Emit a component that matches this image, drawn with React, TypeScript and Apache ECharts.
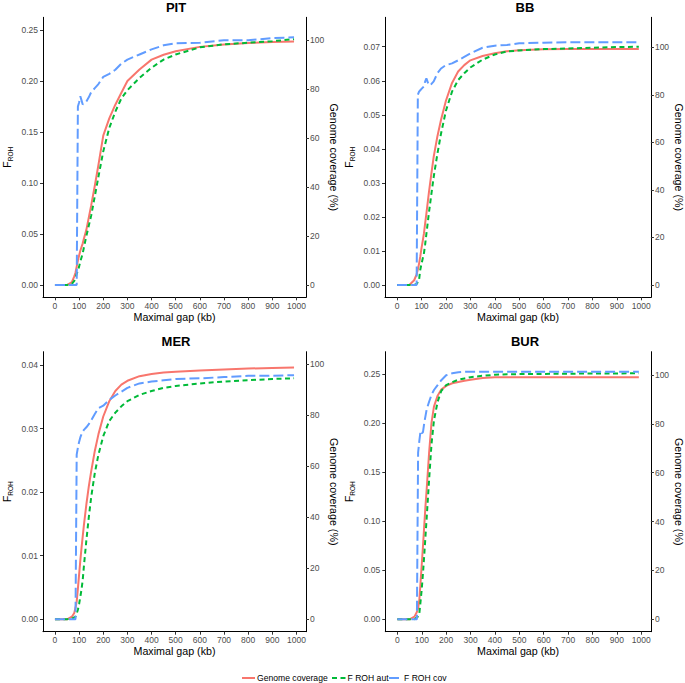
import React, { useEffect, useRef } from "react";
import * as echarts from "echarts";

// Maximal gap (kb)
const GAP = [0, 50, 70, 80, 85, 90, 95, 100, 105, 110, 115, 120, 130, 140, 150, 165, 180, 200, 225, 250, 275, 300, 350, 400, 450, 500, 600, 700, 800, 900, 990];

// PIT
const PIT_GENOME_COVERAGE = [0, 0, 1.2, 3.5, 5, 7.5, 10, 12, 14, 15.5, 17, 19, 22.5, 27.5, 32.5, 40.5, 49, 61, 68, 73.6, 78.5, 83.3, 88, 92, 94, 95.4, 97.2, 98.2, 98.8, 99.2, 99.4];
const PIT_FROH_AUT = [0, 0, 0.001, 0.004, 0.007, 0.011, 0.014, 0.018, 0.023, 0.027, 0.031, 0.037, 0.048, 0.058, 0.068, 0.087, 0.106, 0.131, 0.154, 0.17, 0.183, 0.191, 0.203, 0.213, 0.221, 0.226, 0.233, 0.236, 0.2375, 0.239, 0.241];
const PIT_FROH_COV = [0, 0, 0, 0, 0, 0, 0.175, 0.179, 0.185, 0.181, 0.177, 0.178, 0.18, 0.184, 0.189, 0.193, 0.197, 0.204, 0.207, 0.211, 0.217, 0.221, 0.226, 0.231, 0.235, 0.237, 0.2375, 0.24, 0.24, 0.242, 0.2428];

// BB
const BB_GENOME_COVERAGE = [0, 0, 2, 4.5, 6.5, 9, 12, 15.5, 18.5, 21.7, 26, 30, 38.6, 46.5, 54, 62.5, 69.5, 77.5, 85, 89.8, 92.5, 94.5, 96.3, 97.5, 98.3, 98.7, 99.2, 99.3, 99.3, 99.3, 99.3];
const BB_FROH_AUT = [0, 0, 0, 0.0003, 0.0008, 0.0015, 0.0045, 0.0062, 0.0078, 0.0093, 0.012, 0.015, 0.021, 0.0265, 0.0318, 0.0385, 0.0445, 0.0512, 0.0568, 0.0602, 0.0622, 0.0639, 0.0662, 0.0677, 0.0686, 0.0689, 0.0693, 0.0695, 0.0697, 0.0699, 0.07];
const BB_FROH_COV = [0, 0, 0, 0, 0.0559, 0.0568, 0.0572, 0.0576, 0.058, 0.0583, 0.0598, 0.0607, 0.0587, 0.059, 0.0598, 0.0622, 0.0636, 0.0646, 0.0651, 0.066, 0.067, 0.068, 0.0697, 0.0703, 0.0705, 0.071, 0.0712, 0.0713, 0.0713, 0.0713, 0.0713];

// MER
const MER_GENOME_COVERAGE = [0, 0, 1, 2.5, 4.5, 7, 12, 17.5, 23, 28, 32.5, 37, 45, 52, 58, 66, 72.5, 79.5, 85.5, 89.5, 92, 93.5, 95.3, 96.2, 96.7, 97, 97.5, 97.9, 98.3, 98.5, 98.7];
const MER_FROH_AUT = [0, 0, 0.0001, 0.0003, 0.0004, 0.0009, 0.0015, 0.0024, 0.0035, 0.0047, 0.0062, 0.0084, 0.0124, 0.016, 0.0192, 0.023, 0.0259, 0.0288, 0.0312, 0.0325, 0.0335, 0.0343, 0.0353, 0.0359, 0.0364, 0.0367, 0.0371, 0.0374, 0.0376, 0.0378, 0.0379];
const MER_FROH_COV = [0, 0, 0, 0, 0, 0.0259, 0.027, 0.0279, 0.0286, 0.0291, 0.0295, 0.0298, 0.0302, 0.0307, 0.0313, 0.0323, 0.0332, 0.0336, 0.0345, 0.0352, 0.0358, 0.0364, 0.0371, 0.0374, 0.0376, 0.0378, 0.0379, 0.0381, 0.0383, 0.0383, 0.0384];

// BUR
const BUR_GENOME_COVERAGE = [0, 0, 1.1, 3, 4.5, 7.9, 15, 22.5, 30, 38, 46, 53, 68, 80.5, 87, 91.5, 94, 95.5, 96.6, 97.1, 97.6, 98, 98.7, 99, 99, 99, 99, 99, 99, 99, 99];
const BUR_FROH_AUT = [0, 0, 0, 0.002, 0.003, 0.006, 0.018, 0.031, 0.047, 0.065, 0.084, 0.103, 0.142, 0.179, 0.203, 0.222, 0.233, 0.239, 0.242, 0.2445, 0.2458, 0.247, 0.2485, 0.2495, 0.25, 0.2502, 0.2504, 0.2506, 0.2508, 0.2509, 0.251];
const BUR_FROH_COV = [0, 0, 0, 0, 0.17, 0.182, 0.192, 0.19, 0.191, 0.2, 0.207, 0.214, 0.222, 0.229, 0.234, 0.239, 0.244, 0.249, 0.251, 0.252, 0.2525, 0.2527, 0.2527, 0.2527, 0.2527, 0.2527, 0.2527, 0.2527, 0.2527, 0.2527, 0.2527];

// Tick labels
const X_TICKS = [0, 100, 200, 300, 400, 500, 600, 700, 800, 900, 1000];
const RIGHT_TICKS = [0, 20, 40, 60, 80, 100];
const PIT_TICKS = [0, 0.05, 0.1, 0.15, 0.2, 0.25];
const BB_TICKS = [0, 0.01, 0.02, 0.03, 0.04, 0.05, 0.06, 0.07];
const MER_TICKS = [0, 0.01, 0.02, 0.03, 0.04];
const BUR_TICKS = [0, 0.05, 0.1, 0.15, 0.2, 0.25];

const SERIES_NAMES = ["Genome coverage", "F ROH aut", "F ROH cov"];
const COLORS = ["#F8766D", "#00BA38", "#619CFF"];
const DASHES: any[] = ["solid", [5, 3.5], [10, 4]];
const FONT = "Liberation Sans, Arial, Helvetica, sans-serif";

const PANELS = [
  { title: "PIT", cov: PIT_GENOME_COVERAGE, aut: PIT_FROH_AUT, froh: PIT_FROH_COV, ticks: PIT_TICKS,
    left: 37, top: 17.3, width: 269, height: 280, lMin: -0.01206, lMax: 0.26245, rMin: -5.02, rMax: 109.27, tx: 171, ty: -4 },
  { title: "BB", cov: BB_GENOME_COVERAGE, aut: BB_FROH_AUT, froh: BB_FROH_COV, ticks: BB_TICKS,
    left: 385, top: 17.3, width: 270, height: 280, lMin: -0.00361, lMax: 0.07864, rMin: -5.17, rMax: 112.6, tx: 520, ty: -4 },
  { title: "MER", cov: MER_GENOME_COVERAGE, aut: MER_FROH_AUT, froh: MER_FROH_COV, ticks: MER_TICKS,
    left: 36.7, top: 351.7, width: 269.3, height: 280, lMin: -0.00195, lMax: 0.04209, rMin: -4.86, rMax: 104.9, tx: 171, ty: 329.5 },
  { title: "BUR", cov: BUR_GENOME_COVERAGE, aut: BUR_FROH_AUT, froh: BUR_FROH_COV, ticks: BUR_TICKS,
    left: 385.3, top: 351.7, width: 269.7, height: 280, lMin: -0.01265, lMax: 0.27306, rMin: -5.08, rMax: 109.5, tx: 520, ty: 329.5 },
];

// legend layout (keys and labels)
const LEGEND_Y = 678;
const LEGEND_ITEMS = [
  { x1: 242, x2: 255, tx: 257 },
  { x1: 332, x2: 346, tx: 347.5 },
  { x1: 389, x2: 401, tx: 404 },
];

function buildOption() {
  const grid: any[] = [];
  const xAxis: any[] = [];
  const yAxis: any[] = [];
  const series: any[] = [];
  const title: any[] = [];

  const axisLine = { show: true, onZero: false, lineStyle: { color: "#000", width: 1 } };

  PANELS.forEach((p, i) => {
    grid.push({ left: p.left, top: p.top, width: p.width, height: p.height, containLabel: false });
    title.push({
      text: p.title, left: p.tx, top: p.ty, textAlign: "center",
      textStyle: { fontFamily: FONT, fontSize: 13, fontWeight: "bold", color: "#000" },
    });
    xAxis.push({
      type: "value", gridIndex: i, min: -49.5, max: 1039.5,
      axisLine,
      axisTick: { show: true, length: 3, customValues: X_TICKS, lineStyle: { color: "#333" } },
      axisLabel: { customValues: X_TICKS, color: "#4D4D4D", fontSize: 8.5, fontFamily: FONT, margin: 4,
        formatter: (v: number) => String(v) },
      splitLine: { show: false },
      name: "Maximal gap (kb)", nameLocation: "middle", nameGap: 14,
      nameTextStyle: { fontFamily: FONT, fontSize: 10.7, color: "#000" },
    });
    yAxis.push({
      type: "value", gridIndex: i, position: "left", min: p.lMin, max: p.lMax,
      axisLine,
      axisTick: { show: true, length: 3, customValues: p.ticks, lineStyle: { color: "#333" } },
      axisLabel: { customValues: p.ticks, color: "#4D4D4D", fontSize: 8.5, fontFamily: FONT, margin: 5,
        formatter: (v: number) => v.toFixed(2) },
      splitLine: { show: false },
      name: "{f|F}{s|ROH}", nameLocation: "middle", nameRotate: 90, nameGap: 29,
      nameTextStyle: {
        fontFamily: FONT, color: "#000",
        rich: {
          f: { fontSize: 10.5, fontFamily: FONT, color: "#000", verticalAlign: "bottom", padding: [0, 0, 2, 0] },
          s: { fontSize: 6.5, fontFamily: FONT, color: "#000", verticalAlign: "bottom" },
        },
      },
    });
    yAxis.push({
      type: "value", gridIndex: i, position: "right", min: p.rMin, max: p.rMax,
      axisLine,
      axisTick: { show: true, length: 3, customValues: RIGHT_TICKS, lineStyle: { color: "#333" } },
      axisLabel: { customValues: RIGHT_TICKS, color: "#4D4D4D", fontSize: 8.5, fontFamily: FONT, margin: 4,
        formatter: (v: number) => String(v) },
      splitLine: { show: false },
      name: "Genome coverage (%)", nameLocation: "middle", nameRotate: -90, nameGap: 19,
      nameTextStyle: { fontFamily: FONT, fontSize: 10.7, color: "#000" },
    });

    const lines = [
      { data: p.cov, y: 2 * i + 1 },
      { data: p.aut, y: 2 * i },
      { data: p.froh, y: 2 * i },
    ];
    lines.forEach((l, k) => {
      series.push({
        type: "line", name: SERIES_NAMES[k], xAxisIndex: i, yAxisIndex: l.y,
        data: GAP.map((g, j) => [g, l.data[j]]),
        symbol: "none", showSymbol: false, smooth: false,
        lineStyle: { color: COLORS[k], width: 2, type: DASHES[k] },
        itemStyle: { color: COLORS[k] },
        z: 2 + k,
      });
    });
  });

  const graphic: any[] = [];
  LEGEND_ITEMS.forEach((it, k) => {
    graphic.push({
      type: "line",
      shape: { x1: it.x1, y1: LEGEND_Y, x2: it.x2, y2: LEGEND_Y },
      style: {
        stroke: COLORS[k], lineWidth: 2,
        lineDash: Array.isArray(DASHES[k]) ? DASHES[k] : null,
      },
      silent: true,
    });
    graphic.push({
      type: "text", x: it.tx, y: LEGEND_Y,
      style: {
        text: SERIES_NAMES[k], fill: "#000", font: `8.6px ${FONT}`,
        textVerticalAlign: "middle", verticalAlign: "middle", align: "left",
      },
      silent: true,
    });
  });

  return {
    animation: false,
    backgroundColor: "#fff",
    textStyle: { fontFamily: FONT },
    title,
    grid,
    xAxis,
    yAxis,
    series,
    graphic,
  };
}

export default function App() {
  const ref = useRef<HTMLDivElement>(null);
  useEffect(() => {
    if (!ref.current) return;
    const chart = echarts.init(ref.current, null, { renderer: "svg" });
    chart.setOption(buildOption() as any);
    return () => chart.dispose();
  }, []);
  return (
    <div
      ref={ref}
      style={{ position: "absolute", left: 0, top: 0, width: 685, height: 683, background: "#fff" }}
    />
  );
}
